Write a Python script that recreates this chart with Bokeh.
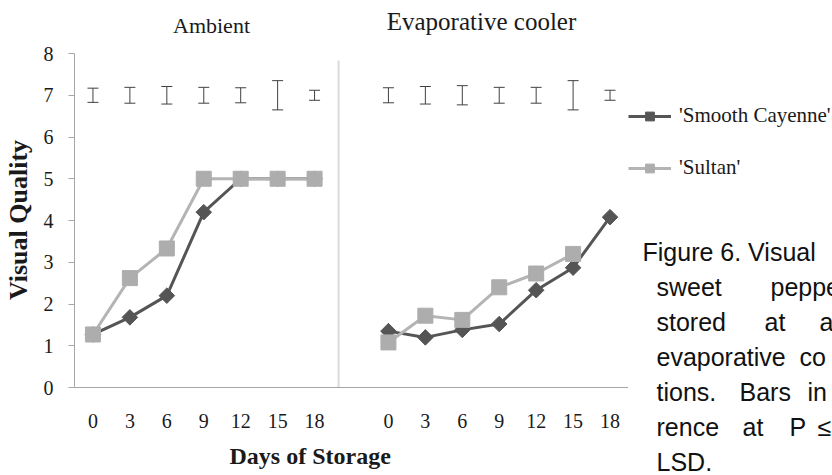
from bokeh.plotting import figure
from bokeh.layouts import row
from bokeh.models import (ColumnDataSource, Whisker, TeeHead, FixedTicker, Legend,
                          LegendItem, Label, Range1d, BoxAnnotation, Title)
from bokeh.embed import file_html
from bokeh.resources import INLINE

# ---- data -------------------------------------------------------------
days = ["0", "3", "6", "9", "12", "15", "18"]
panel_titles = ["Ambient", "Evaporative cooler"]
series_names = ["'Smooth Cayenne'", "'Sultan'"]

ambient_cayenne = [1.27, 1.68, 2.2, 4.2, 5.0, 5.0, 5.0]
ambient_sultan = [1.27, 2.62, 3.33, 5.0, 5.0, 5.0, 5.0]
cooler_cayenne = [1.35, 1.2, 1.38, 1.52, 2.33, 2.87, 4.08]
cooler_sultan = [1.08, 1.72, 1.62, 2.4, 2.73, 3.2]

lsd_center = 7.0
ambient_lsd = [0.17, 0.19, 0.21, 0.19, 0.18, 0.35, 0.12]
cooler_lsd = [0.18, 0.21, 0.23, 0.19, 0.19, 0.35, 0.12]

caption_lines = [
    ["Figure 6. Visual"],
    ["sweet", "peppe"],
    ["stored", "at", "a"],
    ["evaporative", "co"],
    ["tions.", "Bars", "in"],
    ["rence", "at", "P", "\u2264"],
    ["LSD."],
]

# ---- styling / layout constants ----------------------------------------
SERIF = "Liberation Serif"
SANS = "Liberation Sans"
DARK = "#555555"
LIGHT = "#b4b4b4"
LIGHT_FILL = "#adadad"
AXIS = "#a6a6a6"
TEXT = "#1a1a1a"
NBSP = "\u00a0"

Y_MAX = 8
Y_TOP = 9.27            # headroom above the axis for the panel titles
n = len(days)
amb_x = list(range(n))                  # ambient panel slots
cool_x = [n + 1 + i for i in range(n)]  # cooler panel slots, one slot gap
X_LO, X_HI = -0.5, 2 * n + 0.5

# ---- main chart --------------------------------------------------------
p = figure(frame_width=554, frame_height=387,
           min_border_left=73, min_border_right=0,
           min_border_top=0, min_border_bottom=88,
           x_range=Range1d(X_LO, X_HI), y_range=Range1d(0, Y_TOP),
           output_backend="svg", toolbar_location=None,
           background_fill_color="white", border_fill_color="white")
p.frame_align = False
p.outline_line_color = None
p.grid.visible = False

p.xaxis.ticker = FixedTicker(ticks=amb_x + cool_x)
overrides = {}
for i, d in enumerate(days):
    overrides[amb_x[i]] = d
    overrides[cool_x[i]] = d
p.xaxis.major_label_overrides = overrides
p.xaxis.axis_line_color = AXIS
p.xaxis.major_tick_line_color = None
p.xaxis.minor_tick_line_color = None
p.xaxis.major_label_standoff = 20
p.xaxis.major_label_text_font = SERIF
p.xaxis.major_label_text_font_size = "20px"
p.xaxis.major_label_text_color = TEXT

p.yaxis.bounds = (0, Y_MAX)
p.yaxis.ticker = FixedTicker(ticks=list(range(0, Y_MAX + 1)))
p.yaxis.axis_line_color = AXIS
p.yaxis.major_tick_line_color = AXIS
p.yaxis.major_tick_out = 6
p.yaxis.major_tick_in = 0
p.yaxis.minor_tick_line_color = None
p.yaxis.major_label_standoff = 15
p.yaxis.major_label_text_font = SERIF
p.yaxis.major_label_text_font_size = "20px"
p.yaxis.major_label_text_color = TEXT
# trailing spacing keeps the title centred on the 0-8 axis span
p.yaxis.axis_label = "Visual Quality" + NBSP * 8
p.yaxis.axis_label_text_font = SERIF
p.yaxis.axis_label_text_font_style = "bold"
p.yaxis.axis_label_text_font_size = "26px"
p.yaxis.axis_label_text_color = TEXT
p.yaxis.axis_label_standoff = 8

# x axis title, placed under the tick labels
p.add_layout(Title(text="Days of Storage", align="left", offset=155, standoff=20,
                   text_font=SERIF, text_font_style="bold", text_font_size="24px",
                   text_color=TEXT), "below")

# divider between the two storage panels
p.add_layout(BoxAnnotation(left=6.65, right=6.65, bottom=0, top=7.83,
                           fill_alpha=0, line_color="#858585", line_width=2))

# LSD bars
wsrc = ColumnDataSource(dict(
    x=amb_x + cool_x,
    lower=[lsd_center - e for e in ambient_lsd + cooler_lsd],
    upper=[lsd_center + e for e in ambient_lsd + cooler_lsd],
))
p.add_layout(Whisker(source=wsrc, base="x", lower="lower", upper="upper",
                     line_color="#404040", line_width=1,
                     upper_head=TeeHead(size=11, line_color="#404040", line_width=1),
                     lower_head=TeeHead(size=11, line_color="#404040", line_width=1)))

# series lines and markers
for xs, ys in ((amb_x, ambient_cayenne), (cool_x, cooler_cayenne)):
    p.line(xs[:len(ys)], ys, line_color=DARK, line_width=3)
    p.scatter(xs[:len(ys)], ys, marker="square", angle=0.785398, size=11,
              fill_color=DARK, line_color=DARK)
for xs, ys in ((amb_x, ambient_sultan), (cool_x, cooler_sultan)):
    p.line(xs[:len(ys)], ys, line_color=LIGHT, line_width=3)
    p.scatter(xs[:len(ys)], ys, marker="square", size=15,
              fill_color=LIGHT_FILL, line_color=LIGHT_FILL)

# panel titles
p.add_layout(Label(x=137, y=362, x_units="screen", y_units="screen", text=panel_titles[0],
                   text_align="center", text_baseline="alphabetic",
                   text_font=SERIF, text_font_size="22px", text_color=TEXT))
p.add_layout(Label(x=407, y=366, x_units="screen", y_units="screen", text=panel_titles[1],
                   text_align="center", text_baseline="alphabetic",
                   text_font=SERIF, text_font_size="25px", text_color=TEXT))

# ---- side area: legend and caption -------------------------------------
side = figure(width=205, height=475, x_range=Range1d(0, 205), y_range=Range1d(0, 475),
              min_border=0, x_axis_location=None, y_axis_location=None,
              output_backend="svg", toolbar_location=None,
              background_fill_color="white", border_fill_color="white")
side.frame_align = False
side.outline_line_color = None
side.grid.visible = False

# legend swatches reuse the series styling (hidden in this panel)
sw1 = [side.line(amb_x, ambient_cayenne, line_color=DARK, line_width=3, visible=False),
       side.scatter(amb_x, ambient_cayenne, marker="square", angle=0.785398, size=11,
                    fill_color=DARK, line_color=DARK, visible=False)]
sw2 = [side.line(amb_x, ambient_sultan, line_color=LIGHT, line_width=3, visible=False),
       side.scatter(amb_x, ambient_sultan, marker="square", size=15,
                    fill_color=LIGHT_FILL, line_color=LIGHT_FILL, visible=False)]
legend = Legend(items=[LegendItem(label=series_names[0], renderers=sw1),
                       LegendItem(label=series_names[1], renderers=sw2)],
                location=(0, 295), orientation="vertical",
                glyph_width=43, glyph_height=22, label_height=22, spacing=27,
                padding=0, margin=0, label_standoff=8,
                border_line_color=None, background_fill_alpha=0,
                label_text_font=SERIF, label_text_font_size="21px",
                label_text_color=TEXT)
side.add_layout(legend)

# justified caption: word start offsets per line
word_x = [
    [14],
    [28, 142],
    [28, 136, 191],
    [28, 171],
    [28, 111, 179],
    [28, 114, 161, 189],
    [28],
]
for k, (words, xs) in enumerate(zip(caption_lines, word_x)):
    for word, xpos in zip(words, xs):
        side.add_layout(Label(x=xpos, y=224 - 35 * k, x_units="screen", y_units="screen",
                              text=word, text_align="left", text_baseline="alphabetic",
                              text_font=SANS, text_font_size="25px", text_color="#111111"))

layout = row(p, side, spacing=0)
open("out.html", "w").write(file_html(layout, INLINE))
